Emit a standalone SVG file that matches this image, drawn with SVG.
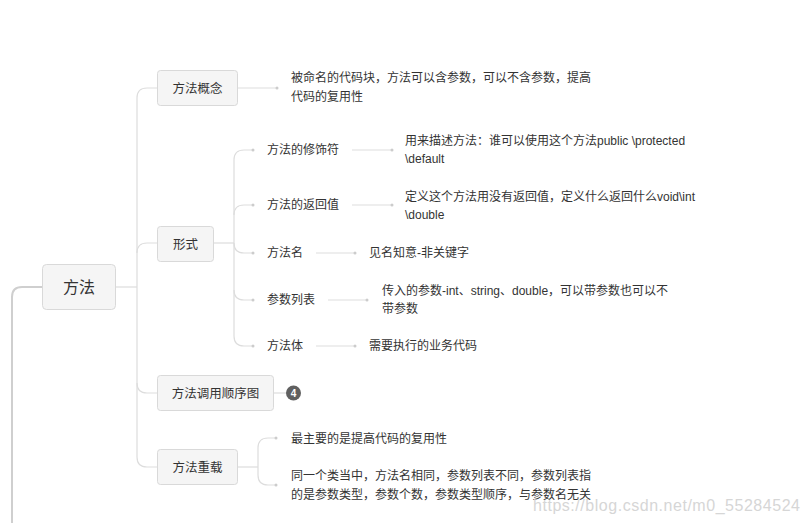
<svg xmlns="http://www.w3.org/2000/svg" width="805" height="523" viewBox="0 0 805 523">
<style>
.bg{fill:#ffffff}
.box{fill:#f5f5f5;stroke:#d9d9d9;stroke-width:1}
.t{font-family:"Liberation Sans","Noto Sans CJK SC",sans-serif;font-size:12px;fill:#333}
.nt{font-family:"Liberation Sans","Noto Sans CJK SC",sans-serif;font-size:12.5px;fill:#333;text-anchor:middle}
.rt{font-family:"Liberation Sans","Noto Sans CJK SC",sans-serif;font-size:16px;fill:#333;text-anchor:middle}
.c{fill:none;stroke:#dddddd;stroke-width:1.2}
.c2{fill:none;stroke:#cfcfcf;stroke-width:2}
.dot{fill:#cccccc}
.wm{font-family:"Liberation Sans",sans-serif;font-size:16px;fill:#d6d6d6}
</style>
<rect class="bg" x="0" y="0" width="805" height="523"/>
<g id="connectors">
<path class="c2" d="M12,523 L12,297 Q12,287 22,287 L42,287"/>
<path class="c" d="M116,287 L137,287"/>
<path class="c" d="M137,287 L137,98 Q137,88 147,88 L157,88"/>
<path class="c" d="M137,253 Q137,243 147,243 L157,243"/>
<path class="c" d="M137,287 L137,457 Q137,467 147,467 L157,467"/>
<path class="c" d="M137,383 Q137,393 147,393 L157,393"/>
<path class="c" d="M237,88 L277,88"/><circle class="dot" cx="277" cy="88" r="1.5"/>
<path class="c" d="M213,243 L234,243"/>
<path class="c" d="M234,243 L234,160 Q234,150 244,150 L253,150"/><circle class="dot" cx="253" cy="150" r="1.5"/>
<path class="c" d="M234,215 Q234,205 244,205 L253,205"/><circle class="dot" cx="253" cy="205" r="1.5"/>
<path class="c" d="M234,243 L234,336 Q234,346 244,346 L253,346"/><circle class="dot" cx="253" cy="346" r="1.5"/>
<path class="c" d="M234,243 Q234,253 244,253 L253,253"/><circle class="dot" cx="253" cy="253" r="1.5"/>
<path class="c" d="M234,290 Q234,300 244,300 L253,300"/><circle class="dot" cx="253" cy="300" r="1.5"/>
<path class="c" d="M352,150 L392,150"/><circle class="dot" cx="392" cy="150" r="1.5"/>
<path class="c" d="M352,205 L392,205"/><circle class="dot" cx="392" cy="205" r="1.5"/>
<path class="c" d="M316,253 L355,253"/><circle class="dot" cx="355" cy="253" r="1.5"/>
<path class="c" d="M328,300 L367,300"/><circle class="dot" cx="367" cy="300" r="1.5"/>
<path class="c" d="M316,346 L355,346"/><circle class="dot" cx="355" cy="346" r="1.5"/>
<path class="c" d="M273,393 L286,393"/>
<path class="c" d="M237,467 L258,467"/>
<path class="c" d="M258,467 L258,448 Q258,438 268,438 L276,438"/><circle class="dot" cx="276" cy="438" r="1.5"/>
<path class="c" d="M258,467 L258,475 Q258,485 268,485 L276,485"/><circle class="dot" cx="276" cy="485" r="1.5"/>
</g>
<g id="root"><rect class="box" x="42.5" y="264.5" width="73" height="45" rx="4"/><text class="rt" x="79" y="293">方法</text></g>
<g id="n-gainian"><rect class="box" x="157.5" y="70.5" width="80" height="35" rx="3"/><text class="nt" x="197.5" y="92.5">方法概念</text></g>
<g id="n-xingshi"><rect class="box" x="157.5" y="226.5" width="56" height="35" rx="3"/><text class="nt" x="185.5" y="248.5">形式</text></g>
<g id="n-shunxu"><rect class="box" x="157.5" y="375.5" width="116" height="35" rx="3"/><text class="nt" x="215.5" y="397.5">方法调用顺序图</text></g>
<g id="n-chongzai"><rect class="box" x="157.5" y="449.5" width="80" height="35" rx="3"/><text class="nt" x="197.5" y="471.5">方法重载</text></g>
<g id="badge"><circle cx="293.5" cy="393" r="7.5" fill="#606060"/><text x="293.5" y="396.5" font-family="Liberation Sans,sans-serif" font-size="10" font-weight="bold" fill="#ffffff" text-anchor="middle">4</text></g>
<g id="l-gainian"><text class="t" x="291" y="82">被命名的代码块，方法可以含参数，可以不含参数，提高</text><text class="t" x="291" y="101">代码的复用性</text></g>
<g id="n-xiushifu"><text class="t" x="267" y="154">方法的修饰符</text></g>
<g id="l-xiushifu"><text class="t" x="405" y="145">用来描述方法：谁可以使用这个方法public \protected</text><text class="t" x="405" y="163">\default</text></g>
<g id="n-fanhui"><text class="t" x="267" y="209">方法的返回值</text></g>
<g id="l-fanhui"><text class="t" x="405" y="201">定义这个方法用没有返回值，定义什么返回什么void\int</text><text class="t" x="405" y="219">\double</text></g>
<g id="n-ming"><text class="t" x="267" y="257">方法名</text></g>
<g id="l-ming"><text class="t" x="369" y="257">见名知意-非关键字</text></g>
<g id="n-canshu"><text class="t" x="267" y="304">参数列表</text></g>
<g id="l-canshu"><text class="t" x="382" y="295">传入的参数-int、string、double，可以带参数也可以不</text><text class="t" x="382" y="313">带参数</text></g>
<g id="n-ti"><text class="t" x="267" y="350">方法体</text></g>
<g id="l-ti"><text class="t" x="369" y="350">需要执行的业务代码</text></g>
<g id="l-cz1"><text class="t" x="291" y="443">最主要的是提高代码的复用性</text></g>
<g id="l-cz2"><text class="t" x="291" y="480">同一个类当中，方法名相同，参数列表不同，参数列表指</text><text class="t" x="291" y="499">的是参数类型，参数个数，参数类型顺序，与参数名无关</text></g>
<text class="wm" x="533" y="511" textLength="267">https://blog.csdn.net/m0_55284524</text>
</svg>
